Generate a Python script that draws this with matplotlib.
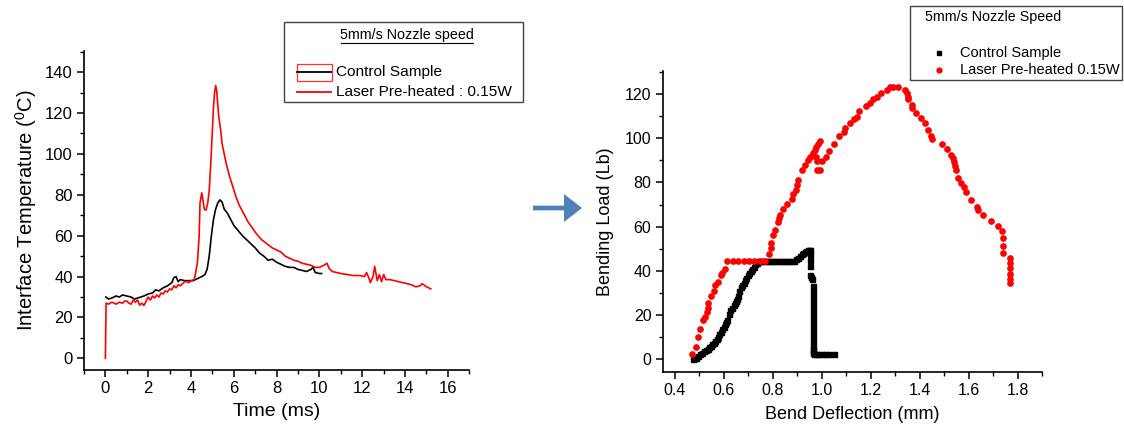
import matplotlib
matplotlib.use("Agg")
import matplotlib.pyplot as plt
from matplotlib.lines import Line2D
from matplotlib.patches import Rectangle, FancyArrow
from matplotlib.ticker import MultipleLocator

plt.rcParams['font.family'] = ['Liberation Sans', 'DejaVu Sans']
plt.rcParams['mathtext.fontset'] = 'custom'
plt.rcParams['mathtext.rm'] = 'Liberation Sans'
plt.rcParams['mathtext.it'] = 'Liberation Sans'

# ---------------- Data: left panel (temperature vs time) ----------------
red_t = [0.00, 0.03, 0.15, 0.3, 0.4, 0.5, 0.65, 0.8, 0.9, 1.0, 1.1, 1.2, 1.3, 1.4, 1.5, 1.6, 1.7,
         1.8, 1.9, 2.0, 2.1, 2.2, 2.3, 2.4, 2.5, 2.6, 2.7, 2.8, 2.9, 3.0, 3.1, 3.2, 3.3, 3.4, 3.5,
         3.6, 3.7, 3.8, 3.9, 4.0, 4.15, 4.2, 4.3, 4.38, 4.42, 4.5, 4.55,
         4.62, 4.7, 4.78, 4.85, 4.92, 5.0, 5.05, 5.1, 5.15, 5.2, 5.25, 5.3, 5.38, 5.45,
         5.55, 5.65, 5.8, 5.95, 6.1, 6.25, 6.45, 6.65, 6.85, 7.05, 7.3, 7.55, 7.8, 8.0,
         8.2, 8.4, 8.6, 8.8, 9.0, 9.2, 9.4, 9.6, 9.8, 10.0, 10.2, 10.35, 10.45, 10.6,
         10.8, 11.0, 11.3, 11.6, 11.9, 12.1, 12.2, 12.3, 12.38, 12.5, 12.58, 12.7, 12.8,
         12.9, 13.0, 13.1, 13.3, 13.5, 13.7, 13.9, 14.1, 14.3, 14.5, 14.7, 14.8, 15.0, 15.2]
red_T = [0.0, 27.0, 26.5, 27.5, 27.0, 26.5, 27.5, 27.0, 28.0, 28.0, 27.0, 26.5, 28.5, 27.5, 28.5, 26.0, 27.0,
         25.8, 28.0, 30.0, 28.5, 30.5, 29.5, 31.0, 30.0, 32.0, 31.5, 33.0, 32.5, 34.0, 33.5, 35.5, 34.5, 36.0, 35.5,
         36.5, 37.5, 37.5, 37.0, 38.0, 38.5, 41.0, 47.0, 60.0, 76.0, 81.0, 78.0,
         73.0, 72.5, 76.0, 82.0, 95.0, 112.0, 123.0, 130.0, 133.5, 131.0, 124.0, 118.0, 112.0, 105.0,
         100.0, 95.0, 89.0, 84.0, 79.0, 75.0, 71.0, 67.0, 64.0, 61.0, 58.0, 56.0, 54.0, 53.0,
         52.0, 50.0, 49.0, 48.0, 47.5, 46.5, 46.0, 45.5, 44.5, 44.5, 45.5, 46.5, 44.0, 42.5,
         42.0, 41.5, 41.0, 40.5, 40.5, 40.0, 42.0, 39.5, 37.0, 40.0, 45.0, 38.0, 41.0,
         37.5, 41.0, 38.5, 38.5, 38.0, 37.5, 37.0, 36.5, 36.0, 35.0, 35.5, 36.5, 35.0, 34.0]

ctrl_t = [0.02, 0.15, 0.3, 0.5, 0.65, 0.8, 1.0, 1.2, 1.35, 1.5, 1.65, 1.8, 2.0, 2.2, 2.35, 2.5,
          2.7, 2.9, 3.1, 3.2, 3.3, 3.4, 3.5, 3.7, 3.9, 4.1, 4.3, 4.5, 4.65, 4.75, 4.85, 4.95,
          5.05, 5.15, 5.25, 5.35, 5.45, 5.55, 5.7, 5.85, 6.0, 6.2, 6.4, 6.6, 6.8, 7.0, 7.2, 7.4,
          7.6, 7.8, 8.0, 8.2, 8.4, 8.6, 8.8, 9.0, 9.2, 9.4, 9.6, 9.7, 9.8, 10.0, 10.1]
ctrl_T = [30.0, 29.0, 29.5, 30.5, 30.0, 31.0, 30.5, 30.0, 29.0, 29.5, 30.0, 30.5, 31.5, 32.0, 33.5, 33.0,
          34.5, 35.5, 37.0, 39.5, 40.0, 37.5, 38.5, 38.0, 38.0, 38.0, 39.0, 40.0, 41.0, 43.5, 50.0, 60.0,
          68.0, 73.0, 76.0, 77.5, 76.5, 73.0, 71.0, 68.0, 65.0, 62.5, 60.0, 58.0, 56.0, 54.0, 51.5, 50.0,
          48.0, 48.5, 47.0, 46.0, 45.0, 44.5, 44.5, 43.5, 43.0, 42.5, 43.5, 44.5, 42.0, 41.5, 41.5]

# ---------------- Data: right panel (load vs deflection) ----------------
laser_x = [0.473, 0.488, 0.495, 0.506, 0.517, 0.525, 0.532, 0.535, 0.535, 0.550, 0.561, 0.564,
           0.579, 0.591, 0.594, 0.605, 0.616, 0.638, 0.660, 0.682, 0.704, 0.726, 0.748, 0.770,
           0.784, 0.792, 0.795, 0.802, 0.811, 0.821, 0.826, 0.831, 0.843, 0.861, 0.880, 0.884,
           0.895, 0.902, 0.905, 0.920, 0.934, 0.946, 0.953, 0.965, 0.972, 0.978, 0.987, 0.993,
           0.978, 0.983, 0.983, 0.993, 1.002, 1.019, 1.031, 1.052, 1.071, 1.093, 1.096, 1.115,
           1.134, 1.144, 1.154, 1.181, 1.198, 1.210, 1.225, 1.242, 1.269, 1.280, 1.291, 1.313,
           1.339, 1.349, 1.352, 1.354, 1.368, 1.371, 1.386, 1.408, 1.423, 1.433, 1.445, 1.452,
           1.492, 1.511, 1.530, 1.536, 1.540, 1.545, 1.550, 1.559, 1.570, 1.580, 1.589, 1.609,
           1.633, 1.639, 1.658, 1.691, 1.721, 1.738, 1.741, 1.741, 1.741, 1.771, 1.771, 1.771,
           1.771, 1.771, 1.771]
laser_y = [2.3, 5.6, 10.2, 13.8, 17.7, 19.2, 21.4, 23.3, 25.6, 28.6, 30.8, 33.5,
           34.9, 37.9, 39.1, 40.9, 44.4, 44.4, 44.4, 44.4, 44.4, 44.4, 44.4, 44.4,
           47.4, 50.4, 52.6, 56.4, 58.6, 62.0, 63.9, 65.4, 68.0, 70.4, 72.5, 74.7,
           76.7, 79.0, 80.9, 85.7, 88.0, 90.2, 91.7, 93.2, 94.7, 96.2, 97.4, 98.5,
           91.7, 89.5, 85.7, 85.7, 89.5, 91.7, 94.0, 97.4, 100.8, 103.0, 104.5, 106.8,
           108.6, 109.5, 112.5, 114.6, 116.1, 117.6, 118.5, 120.6, 121.8, 123.3, 123.0, 123.0,
           121.8, 120.3, 118.5, 117.6, 115.0, 113.5, 111.3, 109.0, 106.8, 103.8, 101.0, 99.6,
           97.4, 95.0, 92.5, 91.0, 89.0, 87.2, 85.4, 82.0, 79.7, 77.9, 75.5, 72.2,
           68.9, 67.4, 65.4, 62.4, 60.2, 57.9, 54.9, 51.1, 48.1, 45.9, 43.6, 41.4,
           38.8, 36.4, 34.3]

ctrl_x = [0.476, 0.482, 0.488, 0.497, 0.506, 0.513, 0.520, 0.528, 0.535, 0.541, 0.547, 0.554,
          0.561, 0.566, 0.572, 0.577, 0.582, 0.588, 0.594, 0.600, 0.605, 0.611, 0.616, 0.623,
          0.626, 0.633, 0.641, 0.647, 0.652, 0.656, 0.660, 0.664, 0.670, 0.676, 0.682, 0.688,
          0.693, 0.699, 0.704, 0.711, 0.718, 0.724, 0.729, 0.735, 0.740, 0.747, 0.755, 0.764,
          0.777, 0.786, 0.799, 0.808, 0.821, 0.830, 0.843, 0.852, 0.865, 0.874, 0.887,
          0.896, 0.905, 0.912, 0.920, 0.926, 0.931, 0.937,
          0.943, 0.948, 0.953, 0.953, 0.953, 0.953, 0.953, 0.957, 0.961, 0.965, 0.965, 0.965,
          0.965, 0.965, 0.965, 0.965, 0.965, 0.965, 0.965, 0.965, 0.965, 0.965, 0.965, 0.965,
          0.965, 0.968, 0.977, 0.987, 1.001, 1.016, 1.032, 1.049]
ctrl_y = [0.0, 0.4, 0.8, 1.6, 2.3, 3.0, 3.8, 4.3, 4.8, 5.4, 6.0, 6.8,
          7.5, 8.2, 9.0, 10.1, 11.3, 12.4, 13.5, 14.6, 15.8, 16.9, 18.0, 20.3,
          22.3, 23.4, 24.4, 25.4, 26.3, 27.4, 28.6, 30.8, 32.8, 33.7, 34.6, 35.7,
          36.8, 38.0, 39.1, 40.0, 40.9, 41.9, 42.9, 43.7, 44.4, 44.4, 44.4, 44.4,
          44.4, 44.4, 44.4, 44.4, 44.4, 44.4, 44.4, 44.4, 44.4, 44.4, 44.4,
          45.2, 45.9, 46.7, 47.4, 47.9, 48.4, 48.9,
          49.3, 49.5, 49.6, 47.4, 44.8, 42.1, 37.9, 37.0, 36.1, 33.1, 30.8, 28.6,
          26.3, 24.1, 21.8, 19.5, 17.3, 15.0, 12.8, 10.5, 8.3, 6.0, 4.5, 3.5,
          3.0, 2.5, 2.3, 2.3, 2.3, 2.3, 2.3, 2.3]

left_xticks = [0, 2, 4, 6, 8, 10, 12, 14, 16]
left_yticks = [0, 20, 40, 60, 80, 100, 120, 140]
right_xticks = [0.4, 0.6, 0.8, 1.0, 1.2, 1.4, 1.6, 1.8]
right_xlabels = ['0.4', '0.6', '0.8', '1.0', '1.2', '1.4', '1.6', '1.8']
right_yticks = [0, 20, 40, 60, 80, 100, 120]

W, H = 1124, 430
fig = plt.figure(figsize=(W / 100, H / 100), dpi=100)


def fx(px):
    return px / W


def fy(py):
    return 1 - py / H


def style_axes(ax, labelsize):
    for s in ('top', 'right'):
        ax.spines[s].set_visible(False)
    for s in ('left', 'bottom'):
        ax.spines[s].set_linewidth(1.2)
    ax.tick_params(which='major', direction='out', length=5, width=1.1, labelsize=labelsize, pad=3)
    ax.tick_params(which='minor', direction='out', length=3, width=1.0)


# Left axes
ax1 = fig.add_axes([fx(84), fy(370), fx(469.3) - fx(84), fy(50.7) - fy(370)])
ax1.plot(ctrl_t, ctrl_T, color='black', lw=1.2)
ax1.plot(red_t, red_T, color='#ff0000', lw=1.2)
ax1.set_xlim(-1, 17)
ax1.set_ylim(-5.7, 150.5)
ax1.set_xticks(left_xticks)
ax1.set_yticks(left_yticks)
ax1.xaxis.set_minor_locator(MultipleLocator(1))
ax1.yaxis.set_minor_locator(MultipleLocator(10))
style_axes(ax1, 12)
ax1.set_xlabel('Time (ms)', fontsize=14, labelpad=5)
ax1.set_ylabel(r'Interface Temperature ($^{0}$C)', fontsize=14.5, labelpad=4)

# Right axes
ax2 = fig.add_axes([fx(662.5), fy(371.7), fx(1042) - fx(662.5), fy(70.7) - fy(371.7)])
ax2.plot(ctrl_x, ctrl_y, linestyle='none', marker='s', ms=3.6, color='black', mec='black')
ax2.plot(laser_x, laser_y, linestyle='none', marker='o', ms=3.8, color='#ff0000', mec='#ff0000')
ax2.set_xlim(0.351, 1.9)
ax2.set_ylim(-5.6, 130.5)
ax2.set_xticks(right_xticks)
ax2.set_xticklabels(right_xlabels)
ax2.set_yticks(right_yticks)
ax2.xaxis.set_minor_locator(MultipleLocator(0.1))
ax2.yaxis.set_minor_locator(MultipleLocator(10))
style_axes(ax2, 11.5)
ax2.set_xlabel('Bend Deflection (mm)', fontsize=13, labelpad=6)
ax2.set_ylabel('Bending Load (Lb)', fontsize=13, labelpad=8)

# Left legend (manual, figure coords)
fig.patches.append(Rectangle((fx(284), fy(102)), fx(523) - fx(284), fy(22) - fy(102),
                             transform=fig.transFigure, fill=False, ec='#444444', lw=1.0))
fig.text(fx(407), fy(35), '5mm/s Nozzle speed', ha='center', va='center', fontsize=10.3)
fig.lines.append(Line2D([fx(341), fx(473)], [fy(43), fy(43)], transform=fig.transFigure,
                        color='black', lw=0.8))
fig.lines.append(Line2D([fx(297), fx(331)], [fy(72), fy(72)], transform=fig.transFigure,
                        color='black', lw=1.3))
fig.patches.append(Rectangle((fx(297), fy(81)), fx(332) - fx(297), fy(64) - fy(81),
                             transform=fig.transFigure, fill=False, ec='#ff3333', lw=0.9))
fig.text(fx(336), fy(72), 'Control Sample', ha='left', va='center', fontsize=11.1)
fig.lines.append(Line2D([fx(297), fx(331)], [fy(92), fy(92)], transform=fig.transFigure,
                        color='#ff0000', lw=1.3))
fig.text(fx(336), fy(92), 'Laser Pre-heated : 0.15W', ha='left', va='center', fontsize=11.1)

# Right legend
fig.patches.append(Rectangle((fx(910), fy(80)), fx(1122) - fx(910), fy(6) - fy(80),
                             transform=fig.transFigure, fill=False, ec='#444444', lw=1.0))
fig.text(fx(925), fy(17), '5mm/s Nozzle Speed', ha='left', va='center', fontsize=10.3)
fig.lines.append(Line2D([fx(939)], [fy(53)], transform=fig.transFigure, marker='s', ms=3.5,
                        color='black', linestyle='none'))
fig.text(fx(960), fy(53), 'Control Sample', ha='left', va='center', fontsize=10.5)
fig.lines.append(Line2D([fx(939)], [fy(70)], transform=fig.transFigure, marker='o', ms=3.5,
                        color='#ff0000', linestyle='none'))
fig.text(fx(960), fy(70), 'Laser Pre-heated 0.15W', ha='left', va='center', fontsize=10.5)

# Arrow between panels
fig.patches.append(FancyArrow(fx(533), fy(208), fx(582) - fx(533), 0, width=0.011,
                              head_width=0.065, head_length=0.016, length_includes_head=True,
                              transform=fig.transFigure, color='#4F81BD', ec='none'))

fig.savefig('out.png', dpi=100)
